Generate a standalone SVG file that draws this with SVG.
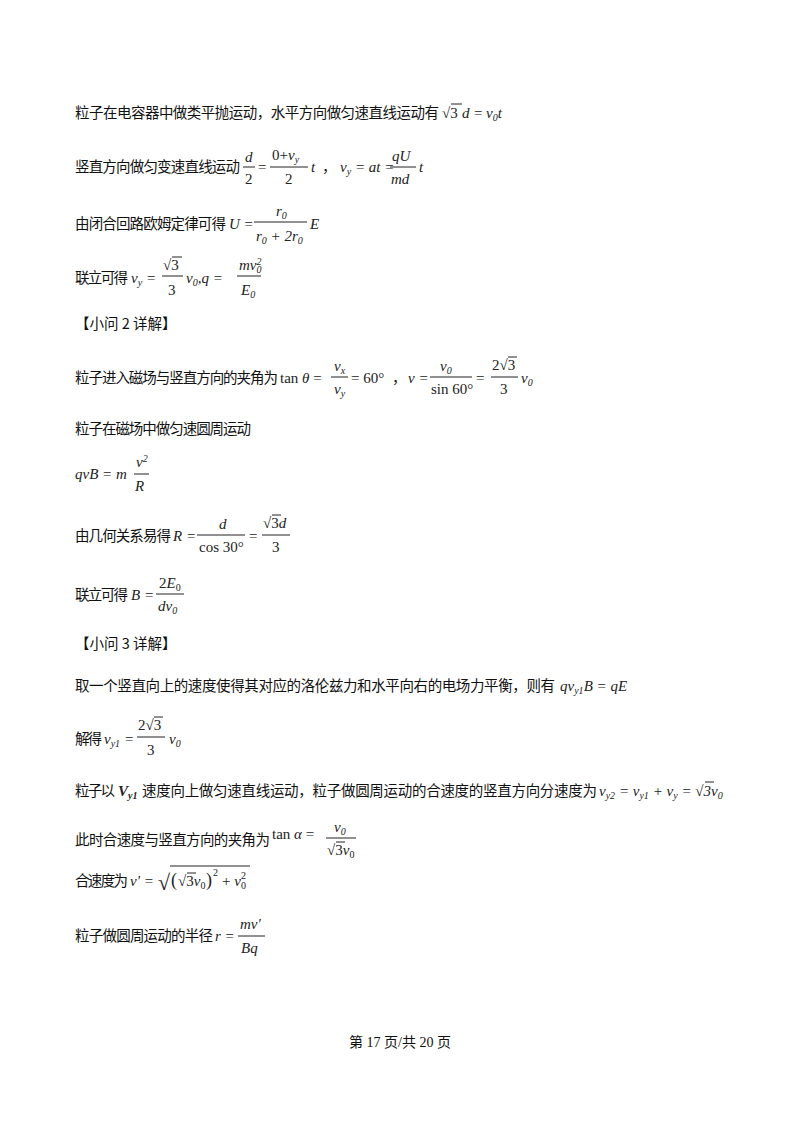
<svg xmlns="http://www.w3.org/2000/svg" width="800" height="1132" viewBox="0 0 800 1132">
<style>
.c{font-family:"Noto Sans CJK SC",sans-serif;font-size:14.5px;fill:#111}
.m{font-family:"Liberation Serif",serif;font-style:italic;font-size:15px;fill:#222}
.n{font-family:"Liberation Serif",serif;font-size:15px;fill:#222}
.s{font-size:10px}
.f{stroke:#222;stroke-width:1}
.ft{font-family:"Liberation Serif","Noto Sans CJK SC",serif;font-size:14px;fill:#111}
</style>
<rect width="800" height="1132" fill="#fff"/>
<g id="l1">
<text class="c" x="75" y="118" textLength="364" lengthAdjust="spacing">粒子在电容器中做类平抛运动，水平方向做匀速直线运动有</text>
<text class="n" x="442" y="118">√3</text><line class="f" x1="451" y1="104" x2="462" y2="104"/>
<text class="m" x="462" y="118">d</text><text class="n" x="474" y="118">=</text>
<text class="m" x="486" y="118">v<tspan class="s" dy="3">0</tspan><tspan dy="-3">t</tspan></text>
</g>
<g id="l2">
<text class="c" x="75" y="172" textLength="165" lengthAdjust="spacing">竖直方向做匀变速直线运动</text>
<text class="m" x="245" y="162">d</text><line class="f" x1="243" y1="167" x2="255" y2="167"/><text class="n" x="245" y="184">2</text>
<text class="n" x="258" y="172">=</text>
<text class="n" x="272" y="160">0+<tspan class="m">v</tspan><tspan class="s m" dy="3">y</tspan></text>
<line class="f" x1="270" y1="167" x2="308" y2="167"/><text class="n" x="285" y="184">2</text>
<text class="m" x="311" y="172">t</text><text class="c" x="322" y="172">，</text>
<text class="m" x="340" y="172">v<tspan class="s" dy="3">y</tspan><tspan class="n" dy="-3"> = </tspan>at<tspan class="n"> =</tspan></text>
<text class="m" x="392" y="161">qU</text><line class="f" x1="390" y1="167" x2="416" y2="167"/><text class="m" x="391" y="184">md</text>
<text class="m" x="419" y="172">t</text>
</g>
<g id="l3">
<text class="c" x="75" y="229" textLength="151" lengthAdjust="spacing">由闭合回路欧姆定律可得</text>
<text class="m" x="229" y="229">U<tspan class="n"> =</tspan></text>
<text class="m" x="276" y="216">r<tspan class="s n" dy="3">0</tspan></text>
<line class="f" x1="254" y1="222" x2="307" y2="222"/>
<text class="m" x="256" y="241">r<tspan class="s n" dy="3">0</tspan><tspan class="n" dy="-3"> + 2</tspan>r<tspan class="s n" dy="3">0</tspan></text>
<text class="m" x="310" y="229">E</text>
</g>
<g id="l4">
<text class="c" x="75" y="283" textLength="53" lengthAdjust="spacing">联立可得</text>
<text class="m" x="131" y="283">v<tspan class="s" dy="3">y</tspan><tspan class="n" dy="-3"> =</tspan></text>
<text class="n" x="163" y="270">√3</text><line class="f" x1="172" y1="257" x2="182" y2="257"/>
<line class="f" x1="162" y1="276" x2="183" y2="276"/><text class="n" x="168" y="295">3</text>
<text class="m" x="186" y="283">v<tspan class="s n" dy="3">0</tspan><tspan class="n" dy="-3">,</tspan>q<tspan class="n"> =</tspan></text>
<text class="m" x="239" y="270">mv<tspan class="s n" dy="-5">2</tspan><tspan class="s n" dx="-5" dy="8">0</tspan></text>
<line class="f" x1="237" y1="276" x2="261" y2="276"/>
<text class="m" x="241" y="295">E<tspan class="s n" dy="3">0</tspan></text>
</g>
<g id="h2"><text class="c" x="75" y="329">【小问 2 详解】</text></g>
<g id="l5">
<text class="c" x="75" y="383" textLength="203" lengthAdjust="spacing">粒子进入磁场与竖直方向的夹角为</text>
<text class="n" x="280" y="383">tan <tspan class="m">θ</tspan> =</text>
<text class="m" x="334" y="371">v<tspan class="s" dy="3">x</tspan></text>
<line class="f" x1="331" y1="377" x2="348" y2="377"/>
<text class="m" x="334" y="394">v<tspan class="s" dy="3">y</tspan></text>
<text class="n" x="351" y="383">= 60°</text><text class="c" x="392" y="383">，</text>
<text class="m" x="408" y="383">v<tspan class="n"> =</tspan></text>
<text class="m" x="440" y="371">v<tspan class="s n" dy="3">0</tspan></text>
<line class="f" x1="430" y1="377" x2="472" y2="377"/>
<text class="n" x="431" y="394">sin 60°</text>
<text class="n" x="476" y="383">=</text>
<text class="n" x="492" y="370">2√3</text><line class="f" x1="508" y1="357" x2="517" y2="357"/>
<line class="f" x1="491" y1="377" x2="518" y2="377"/><text class="n" x="500" y="394">3</text>
<text class="m" x="521" y="383">v<tspan class="s n" dy="3">0</tspan></text>
</g>
<g id="l6"><text class="c" x="75" y="434" textLength="176" lengthAdjust="spacing">粒子在磁场中做匀速圆周运动</text></g>
<g id="l7">
<text class="m" x="75" y="479">qvB<tspan class="n"> = </tspan>m</text>
<text class="m" x="136" y="467">v<tspan class="s n" dy="-5">2</tspan></text>
<line class="f" x1="134" y1="474" x2="149" y2="474"/>
<text class="m" x="135" y="491">R</text>
</g>
<g id="l8">
<text class="c" x="75" y="541" textLength="96" lengthAdjust="spacing">由几何关系易得</text>
<text class="m" x="173" y="541">R<tspan class="n"> =</tspan></text>
<text class="m" x="219" y="529">d</text>
<line class="f" x1="197" y1="535" x2="245" y2="535"/>
<text class="n" x="199" y="552">cos 30°</text>
<text class="n" x="249" y="541">=</text>
<text class="n" x="263" y="528">√3<tspan class="m">d</tspan></text><line class="f" x1="272" y1="515" x2="281" y2="515"/>
<line class="f" x1="262" y1="535" x2="290" y2="535"/><text class="n" x="272" y="552">3</text>
</g>
<g id="l9">
<text class="c" x="75" y="600" textLength="53" lengthAdjust="spacing">联立可得</text>
<text class="m" x="131" y="600">B<tspan class="n"> =</tspan></text>
<text class="n" x="159" y="588">2<tspan class="m">E</tspan><tspan class="s" dy="3">0</tspan></text>
<line class="f" x1="156" y1="594" x2="184" y2="594"/>
<text class="m" x="158" y="611">dv<tspan class="s n" dy="3">0</tspan></text>
</g>
<g id="h3"><text class="c" x="75" y="649">【小问 3 详解】</text></g>
<g id="l10">
<text class="c" x="75" y="691" textLength="480" lengthAdjust="spacing">取一个竖直向上的速度使得其对应的洛伦兹力和水平向右的电场力平衡，则有</text>
<text class="m" x="560" y="691">qv<tspan class="s n" dy="3">y1</tspan><tspan dy="-3">B</tspan><tspan class="n"> = </tspan>qE</text>
</g>
<g id="l11">
<text class="c" x="75" y="744" textLength="27" lengthAdjust="spacing">解得</text>
<text class="m" x="104" y="744">v<tspan class="s n" dy="3">y1</tspan><tspan class="n" dy="-3"> =</tspan></text>
<text class="n" x="138" y="730">2√3</text><line class="f" x1="154" y1="717" x2="163" y2="717"/>
<line class="f" x1="137" y1="737" x2="165" y2="737"/><text class="n" x="147" y="755">3</text>
<text class="m" x="169" y="744">v<tspan class="s n" dy="3">0</tspan></text>
</g>
<g id="l12">
<text class="c" x="75" y="796" textLength="40" lengthAdjust="spacing">粒子以</text>
<text class="m" x="118" y="796" style="font-weight:bold">V<tspan class="s" dy="3">y1</tspan></text>
<text class="c" x="142" y="796" textLength="455" lengthAdjust="spacing">速度向上做匀速直线运动，粒子做圆周运动的合速度的竖直方向分速度为</text>
<text class="m" x="599" y="796">v<tspan class="s n" dy="3">y2</tspan><tspan class="n" dy="-3"> = </tspan>v<tspan class="s n" dy="3">y1</tspan><tspan class="n" dy="-3"> + </tspan>v<tspan class="s" dy="3">y</tspan><tspan class="n" dy="-3"> = √3</tspan>v<tspan class="s n" dy="3">0</tspan></text>
<line class="f" x1="705" y1="782" x2="714" y2="782"/>
</g>
<g id="l13">
<text class="c" x="75" y="845" textLength="195" lengthAdjust="spacing">此时合速度与竖直方向的夹角为</text>
<text class="n" x="272" y="839">tan <tspan class="m">α</tspan> =</text>
<text class="m" x="334" y="832">v<tspan class="s n" dy="3">0</tspan></text>
<line class="f" x1="326" y1="838" x2="356" y2="838"/>
<text class="n" x="327" y="855">√3<tspan class="m">v</tspan><tspan class="s" dy="3">0</tspan></text>
<line class="f" x1="336" y1="842" x2="345" y2="842"/>
</g>
<g id="l14">
<text class="c" x="75" y="886" textLength="53" lengthAdjust="spacing">合速度为</text>
<text class="m" x="130" y="886">v'<tspan class="n"> =</tspan></text>
<text class="n" x="158" y="890" style="font-size:22px">√</text>
<line class="f" x1="170" y1="866" x2="250" y2="866"/>
<text class="n" x="171" y="886" style="font-size:18px">(</text>
<text class="n" x="178" y="886">√3<tspan class="m">v</tspan><tspan class="s" dy="3">0</tspan></text>
<line class="f" x1="187" y1="873" x2="196" y2="873"/>
<text class="n" x="206" y="886" style="font-size:18px">)</text>
<text class="n s" x="213" y="876">2</text>
<text class="n" x="222" y="886">+ <tspan class="m">v</tspan><tspan class="s" dy="-7">2</tspan><tspan class="s" dx="-5" dy="10">0</tspan></text>
</g>
<g id="l15">
<text class="c" x="75" y="941" textLength="138" lengthAdjust="spacing">粒子做圆周运动的半径</text>
<text class="m" x="215" y="941">r<tspan class="n"> =</tspan></text>
<text class="m" x="240" y="929">mv'</text>
<line class="f" x1="238" y1="936" x2="265" y2="936"/>
<text class="m" x="241" y="953">Bq</text>
</g>
<g id="footer"><text class="ft" x="400" y="1047" text-anchor="middle">第 17 页/共 20 页</text></g>
</svg>
